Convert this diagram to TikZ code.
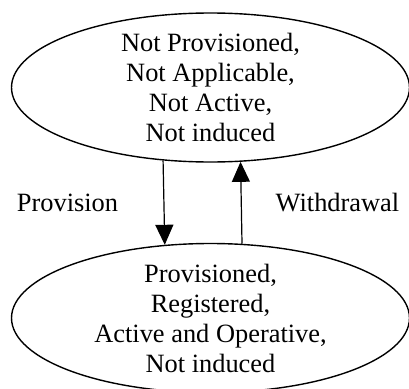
\documentclass[tikz,border=0pt]{standalone}
\usepackage{fontspec}
\setmainfont{Liberation Serif}
\newfontfamily\tnrfont{Liberation Serif}
\usetikzlibrary{arrows.meta,shapes.geometric}
\begin{document}
\begin{tikzpicture}[x=1pt,y=-1pt,
  state/.style={ellipse, draw, line width=1.4pt, minimum width=398pt, minimum height=149pt,
    inner xsep=0pt, inner ysep=-4pt, align=center, font=\tnrfont\fontsize{26.4}{30}\selectfont},
  lbl/.style={font=\tnrfont\fontsize{26.4}{30}\selectfont, anchor=base, inner sep=0pt},
  trans/.style={line width=1.2pt, -{Triangle[width=18pt,length=20pt]}}]
\useasboundingbox (0,0) rectangle (409,388);
\node[state] (top) at (210.5,87.5) {Not Provisioned,\\Not Applicable,\\Not Active,\\Not induced};
\node[state] (bot) at (210.5,318) {Provisioned,\\Registered,\\Active and Operative,\\Not induced};
\draw[trans] (top.237.3) -- (bot.122.7);
\draw[trans] (bot.67.5) -- (top.292.5);
\node[lbl] (prov) at (67.5,211) {Provision};
\node[lbl] (wd) at (337.5,211) {Withdrawal};
\end{tikzpicture}
\end{document}
